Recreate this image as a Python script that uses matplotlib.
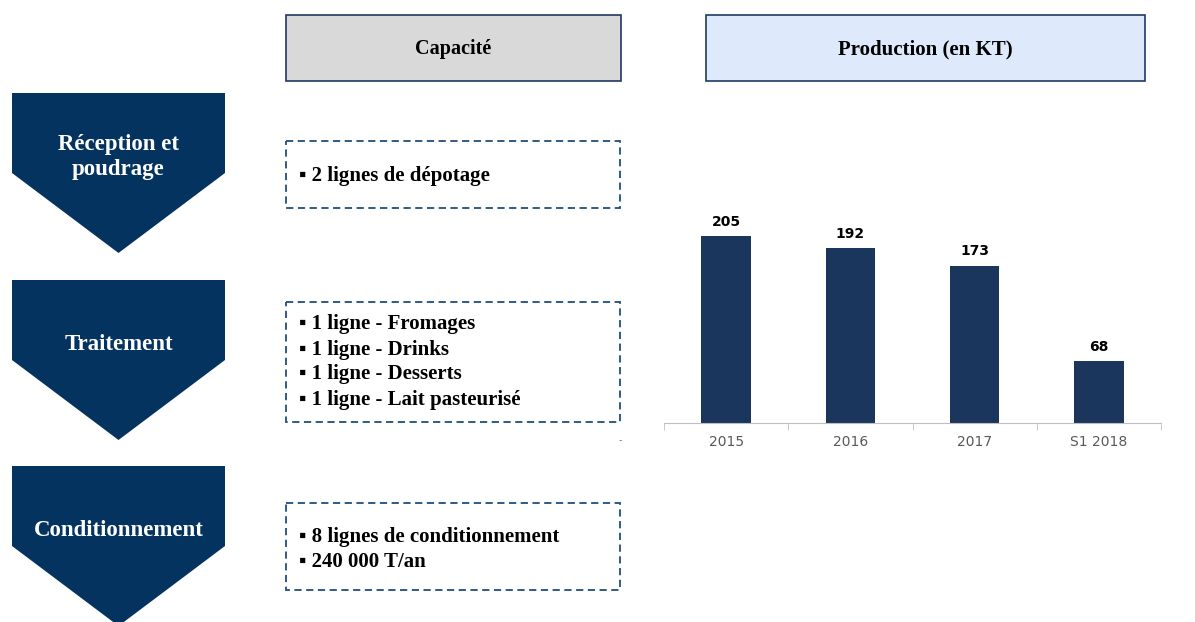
import matplotlib.pyplot as plt
from matplotlib.patches import Polygon, Rectangle

# production data (KT)
years = ['2015', '2016', '2017', 'S1 2018']
production = [205, 192, 173, 68]

steps = ['Réception et\npoudrage', 'Traitement', 'Conditionnement']
capacities = [
    ['2 lignes de dépotage'],
    ['1 ligne - Fromages', '1 ligne - Drinks', '1 ligne - Desserts', '1 ligne - Lait pasteurisé'],
    ['8 lignes de conditionnement', '240 000 T/an'],
]

W, H = 1195, 622
navy = '#04335f'
serif = ['Liberation Serif', 'DejaVu Serif']
bullet_font = ['Liberation Serif', 'DejaVu Sans']

fig = plt.figure(figsize=(W / 100, H / 100), dpi=100)
bg = fig.add_axes([0, 0, 1, 1])
bg.set_xlim(0, W)
bg.set_ylim(H, 0)
bg.axis('off')

# header boxes
bg.add_patch(Rectangle((286, 15), 335, 66, facecolor='#d9d9d9', edgecolor='#1f3864', lw=1.2))
bg.text(453, 49, 'Capacité', ha='center', va='center', fontsize=14.5, fontweight='bold', family=serif)
bg.add_patch(Rectangle((706, 15), 439, 66, facecolor='#deeafc', edgecolor='#1f3864', lw=1.2))
bg.text(925, 49, 'Production (en KT)', ha='center', va='center', fontsize=15, fontweight='bold', family=serif)

# process chevrons
chev_tops = [93, 280, 466]
for top, label in zip(chev_tops, steps):
    pts = [(12, top), (225, top), (225, top + 80), (118.5, top + 160), (12, top + 80)]
    bg.add_patch(Polygon(pts, closed=True, facecolor=navy, edgecolor='none'))
    bg.text(118.5, top + 64, label, ha='center', va='center', color='white',
            fontsize=16.5, fontweight='bold', family=serif, linespacing=1.25)

# dashed capacity boxes
boxes = [(141, 208), (302, 422), (503, 590)]
shifts = [1.5, 0, 3]
for (y0, y1), items, dy in zip(boxes, capacities, shifts):
    bg.add_patch(Rectangle((286, y0), 334, y1 - y0, facecolor='none', edgecolor='#1f4e79',
                           lw=1.3, linestyle=(0, (4, 2.5))))
    n = len(items)
    yc = (y0 + y1) / 2 + dy
    for i, item in enumerate(items):
        y = yc + (i - (n - 1) / 2) * 25
        bg.text(299, y, '\u25aa ' + item, ha='left', va='center', fontsize=15,
                fontweight='bold', family=bullet_font)

bg.text(620, 440, '-', ha='center', va='center', fontsize=7, color='#7f7f7f')

# production bar chart
ax = fig.add_axes([664 / W, 1 - 423 / H, 497 / W, 223 / H])
x = range(len(years))
bars = ax.bar(x, production, width=0.4, color='#1b365d')
for xi, v in zip(x, production):
    ax.text(xi, v + 8, str(v), ha='center', va='bottom', fontsize=10, fontweight='bold')
ax.set_xlim(-0.5, 3.5)
ax.set_ylim(0, 245)
for side in ['top', 'right', 'left']:
    ax.spines[side].set_visible(False)
ax.spines['bottom'].set_color('#bfbfbf')
ax.set_yticks([])
ax.set_xticks(list(x))
ax.set_xticklabels(years, color='#595959', fontsize=10)
ax.tick_params(axis='x', which='major', length=0, pad=9)
ax.set_xticks([-0.5, 0.5, 1.5, 2.5, 3.5], minor=True)
ax.tick_params(axis='x', which='minor', length=5, color='#bfbfbf')
ax.patch.set_alpha(0)

fig.savefig('out.png', dpi=100)
